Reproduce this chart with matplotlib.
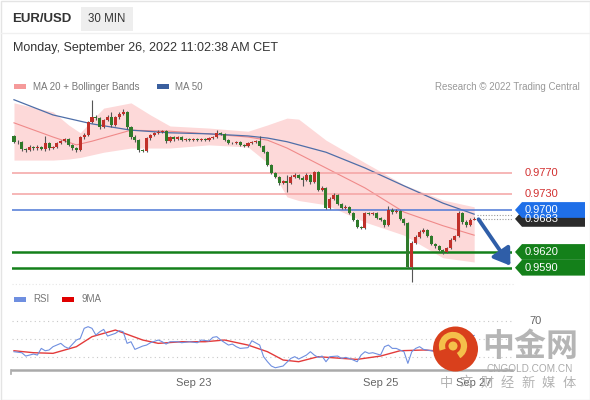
import matplotlib
matplotlib.use('Agg')
import matplotlib.pyplot as plt
import matplotlib.transforms as mtransforms
from matplotlib.patches import Polygon, Rectangle, Circle, Arc, FancyArrowPatch

plt.rcParams['font.family'] = ['Liberation Sans', 'DejaVu Sans']

# candle data (30 min), open of first candle, then closes / highs / lows
first_open = 0.9840
closes = [0.9830, 0.9829, 0.9816, 0.9814, 0.9820, 0.9818, 0.9820, 0.9816, 0.9828, 0.9818,
          0.9820, 0.9828, 0.9831, 0.9835, 0.9824, 0.9818, 0.9814, 0.9839, 0.9843, 0.9868,
          0.9877, 0.9875, 0.9858, 0.9871, 0.9877, 0.9862, 0.9877, 0.9883, 0.9887, 0.9858,
          0.9839, 0.9833, 0.9814, 0.9813, 0.9837, 0.9843, 0.9847, 0.9849, 0.9850, 0.9831,
          0.9839, 0.9835, 0.9839, 0.9833, 0.9835, 0.9833, 0.9835, 0.9833, 0.9835, 0.9834,
          0.9837, 0.9839, 0.9847, 0.9845, 0.9833, 0.9828, 0.9827, 0.9829, 0.9824, 0.9822,
          0.9828, 0.9829, 0.9831, 0.9822, 0.9810, 0.9786, 0.9770, 0.9763, 0.9751, 0.9755,
          0.9751, 0.9763, 0.9767, 0.9761, 0.9757, 0.9767, 0.9753, 0.9772, 0.9738, 0.9742,
          0.9704, 0.9721, 0.9729, 0.9711, 0.9704, 0.9706, 0.9694, 0.9681, 0.9668, 0.9666,
          0.9694, 0.9692, 0.9694, 0.9685, 0.9681, 0.9671, 0.9700, 0.9696, 0.9698, 0.9683,
          0.9675, 0.9591, 0.9637, 0.9649, 0.9658, 0.9662, 0.9650, 0.9635, 0.9631, 0.9624,
          0.9620, 0.9628, 0.9643, 0.9650, 0.9694, 0.9677, 0.9671, 0.9681, 0.9683]
highs = [0.9843, 0.9833, 0.9831, 0.9818, 0.9823, 0.9822, 0.9823, 0.9822, 0.9840, 0.9830,
         0.9822, 0.9830, 0.9834, 0.9838, 0.9837, 0.9826, 0.9820, 0.9841, 0.9846, 0.9870,
         0.9910, 0.9880, 0.9877, 0.9874, 0.9880, 0.9887, 0.9879, 0.9886, 0.9892, 0.9889,
         0.9860, 0.9842, 0.9835, 0.9817, 0.9839, 0.9845, 0.9849, 0.9852, 0.9853, 0.9852,
         0.9841, 0.9841, 0.9841, 0.9841, 0.9837, 0.9837, 0.9837, 0.9837, 0.9837, 0.9837,
         0.9839, 0.9841, 0.9852, 0.9849, 0.9847, 0.9835, 0.9830, 0.9831, 0.9831, 0.9826,
         0.9830, 0.9831, 0.9834, 0.9841, 0.9824, 0.9812, 0.9788, 0.9772, 0.9765, 0.9758,
         0.9766, 0.9766, 0.9770, 0.9769, 0.9764, 0.9770, 0.9769, 0.9775, 0.9774, 0.9745,
         0.9744, 0.9724, 0.9732, 0.9731, 0.9713, 0.9709, 0.9708, 0.9696, 0.9683, 0.9670,
         0.9697, 0.9697, 0.9697, 0.9696, 0.9687, 0.9683, 0.9708, 0.9703, 0.9701, 0.9700,
         0.9685, 0.9677, 0.9640, 0.9652, 0.9661, 0.9665, 0.9664, 0.9652, 0.9637, 0.9633,
         0.9626, 0.9630, 0.9646, 0.9653, 0.9698, 0.9697, 0.9680, 0.9684, 0.9686]
lows = [0.9827, 0.9826, 0.9813, 0.9811, 0.9812, 0.9815, 0.9815, 0.9814, 0.9813, 0.9815,
        0.9816, 0.9818, 0.9826, 0.9829, 0.9822, 0.9815, 0.9811, 0.9812, 0.9836, 0.9841,
        0.9865, 0.9872, 0.9855, 0.9856, 0.9869, 0.9859, 0.9860, 0.9874, 0.9881, 0.9855,
        0.9836, 0.9830, 0.9811, 0.9810, 0.9811, 0.9834, 0.9840, 0.9845, 0.9847, 0.9828,
        0.9829, 0.9832, 0.9833, 0.9831, 0.9831, 0.9831, 0.9831, 0.9831, 0.9831, 0.9832,
        0.9832, 0.9835, 0.9837, 0.9843, 0.9831, 0.9826, 0.9825, 0.9825, 0.9822, 0.9820,
        0.9820, 0.9826, 0.9827, 0.9820, 0.9808, 0.9784, 0.9768, 0.9761, 0.9748, 0.9749,
        0.9734, 0.9749, 0.9761, 0.9759, 0.9745, 0.9755, 0.9750, 0.9751, 0.9736, 0.9736,
        0.9702, 0.9702, 0.9719, 0.9709, 0.9702, 0.9702, 0.9692, 0.9679, 0.9665, 0.9663,
        0.9664, 0.9690, 0.9690, 0.9683, 0.9679, 0.9668, 0.9669, 0.9693, 0.9694, 0.9681,
        0.9672, 0.9589, 0.9563, 0.9635, 0.9647, 0.9656, 0.9648, 0.9633, 0.9628, 0.9621,
        0.9617, 0.9618, 0.9626, 0.9641, 0.9648, 0.9674, 0.9668, 0.9669, 0.9680]

# indicators
band_idx = [0, 10, 14, 17, 20, 23, 30, 35, 40, 50, 60, 65, 70, 73, 80, 90, 100, 110, 118]
bb_upper = [0.9904, 0.9887, 0.9862, 0.9847, 0.9871, 0.9894, 0.9904, 0.9881, 0.9860, 0.9856,
            0.9850, 0.9862, 0.9875, 0.9873, 0.9833, 0.9790, 0.9748, 0.9719, 0.9706]
bb_lower = [0.9795, 0.9795, 0.9797, 0.9800, 0.9805, 0.9810, 0.9818, 0.9818, 0.9818, 0.9824,
            0.9820, 0.9790, 0.9725, 0.9718, 0.9710, 0.9677, 0.9652, 0.9609, 0.9601]
ma_idx = [0, 10, 16, 20, 30, 40, 50, 60, 65, 70, 80, 90, 100, 110, 118]
ma20 = [0.9866, 0.9839, 0.9824, 0.9831, 0.9852, 0.9850, 0.9845, 0.9839, 0.9833, 0.9818,
        0.9780, 0.9742, 0.9696, 0.9670, 0.9652]
ma50_idx = [0, 10, 20, 30, 40, 50, 60, 65, 70, 80, 90, 100, 110, 118]
ma50 = [0.9910, 0.9881, 0.9864, 0.9852, 0.9847, 0.9845, 0.9841, 0.9837, 0.9830, 0.9810,
        0.9780, 0.9746, 0.9713, 0.9692]

rsi_idx = [0, 2, 3, 4, 5, 6, 7, 8, 9, 10, 12, 13, 14, 16, 17, 18, 19, 20, 21, 22, 23, 24, 26,
           27, 28, 29, 30, 31, 33, 34, 35, 37, 38, 39, 40, 42, 43, 45, 47, 48, 50, 51, 52, 53,
           55, 56, 57, 58, 60, 61, 63, 64, 65, 66, 67, 69, 71, 72, 73, 75, 76, 77, 78, 79, 80,
           81, 83, 84, 85, 86, 88, 89, 90, 91, 92, 94, 95, 96, 97, 98, 100, 101, 102, 103, 104,
           105, 107, 108, 110, 112, 114, 116, 118]
rsi = [35.9, 34.8, 31.1, 32.2, 33.3, 32.2, 39.6, 37.0, 37.8, 41.5, 45.2, 41.5, 39.6, 48.9, 50.7,
       61.9, 63.7, 61.9, 54.4, 58.1, 60.7, 53.3, 56.3, 59.3, 58.1, 45.2, 47.0, 38.5, 42.2, 43.3,
       45.9, 48.9, 47.0, 44.4, 47.0, 47.0, 45.9, 47.0, 45.9, 48.9, 47.8, 51.9, 52.6, 48.9, 43.3,
       44.4, 41.5, 39.6, 40.4, 48.1, 43.3, 30.4, 24.8, 20.0, 18.1, 20.0, 28.5, 30.4, 27.8, 32.2,
       35.9, 32.2, 29.6, 31.1, 24.8, 30.4, 31.1, 28.5, 29.6, 28.5, 24.8, 32.2, 35.9, 34.1, 34.8,
       32.2, 41.5, 43.3, 39.6, 39.6, 35.9, 23.0, 35.9, 39.6, 41.5, 38.5, 37.0, 35.9, 33.0, 40.0,
       58.0, 52.0, 54.0]
rsi_ma_idx = [0, 5, 10, 16, 20, 26, 33, 37, 43, 49, 54, 60, 65, 69, 73, 78, 84, 88, 94, 99, 105,
              108, 113, 118]
rsi_ma = [37.0, 34.8, 34.1, 41.5, 52.6, 60.0, 48.9, 45.2, 47.0, 47.0, 48.9, 43.3, 35.9, 26.7,
          24.8, 30.4, 28.5, 27.4, 31.1, 37.0, 37.8, 37.0, 40.0, 45.0]

levels = [0.9770, 0.9730, 0.9700, 0.9620, 0.9590]
level_colors = ['#f4a3a3', '#f4a3a3', '#4d78d6', '#14801a', '#14801a']
last_price = 0.9683
date_ticks = [46, 94, 118]
date_labels = ['Sep 23', 'Sep 25', 'Sep 27']

up_col = '#c0302a'
dn_col = '#2f7a2a'

fig = plt.figure(figsize=(5.9, 4.0), dpi=100)
fig.patch.set_facecolor('white')

# price panel
ax = fig.add_axes([12 / 590, 115 / 400, 500 / 590, 190 / 400])
ax.set_xlim(-0.51, 127.7)
ax.set_ylim(0.95571, 0.99190)
ax.axis('off')

ax.fill_between(band_idx, bb_lower, bb_upper, color='#fdd9d9', lw=0, zorder=1)
ax.plot(ma_idx, ma20, color='#f08a8a', lw=0.8, zorder=2)
ax.plot(ma50_idx, ma50, color='#4e6ea8', lw=0.9, zorder=2)

for lv, c in zip(levels, level_colors):
    lw = 1.8 if c == '#14801a' else 1.1
    ax.axhline(lv, color=c, lw=lw, zorder=3)

opens = [first_open] + closes[:-1]
for i in range(len(closes)):
    o, c = opens[i], closes[i]
    col = up_col if c >= o else dn_col
    ax.vlines(i, lows[i], highs[i], color='#555555', lw=0.8, zorder=4)
    ax.bar(i, max(abs(c - o), 0.00008), bottom=min(o, c), width=0.78, color=col, lw=0, zorder=5)

# dotted link from last candle to price tag
n = len(closes)
ax.hlines([last_price, last_price + 0.0007], n - 0.3, 127.7, colors='#999999', lw=0.8,
          linestyles=(0, (1, 1.5)), zorder=3)

# rsi panel
ar = fig.add_axes([12 / 590, 30 / 400, 500 / 590, 65 / 400])
ar.set_xlim(-0.51, 127.7)
ar.set_ylim(15.6, 87.8)
for s in ['top', 'right', 'left']:
    ar.spines[s].set_visible(False)
ar.spines['bottom'].set_color('#aaaaaa')
ar.spines['bottom'].set_linewidth(1.8)
ar.set_yticks([])
ar.set_xticks(date_ticks)
ar.set_xticklabels(date_labels, color='#666666', fontsize=8)
ar.tick_params(axis='x', length=0, pad=6)
for g in [70, 50, 30]:
    ar.axhline(g, color='#c8c8c8', lw=0.8, linestyle=(0, (1, 3)))
ar.plot(rsi_ma_idx, rsi_ma, color='#e33b3b', lw=1.0)
ar.plot(rsi_idx, rsi, color='#6f8fe0', lw=0.8)
ar.text(1.035, 70, '70', transform=ar.get_yaxis_transform(), color='#666666', fontsize=8,
        va='center')

# overlay in pixel units for header, legends, tags, watermark
ov = fig.add_axes([0, 0, 1, 1])
ov.set_xlim(0, 590)
ov.set_ylim(400, 0)
ov.axis('off')
ov.add_patch(Rectangle((0.5, 0.5), 589, 399, fill=False, ec='#e4e4e4', lw=1))
ov.plot([1, 589], [33, 33], color='#f0f0f0', lw=1)
ov.plot([12, 515], [284, 284], color='#e6e6e6', lw=0.8, linestyle=(0, (1, 2)))
ov.plot([11, 11], [370, 374], color='#aaaaaa', lw=1.2)

ov.text(12, 19, 'EUR/USD', fontsize=9.5, fontweight='bold', color='#333333', va='center')
ov.add_patch(Rectangle((81, 7), 52, 24, color='#eeeeee', lw=0))
ov.text(107, 19, '30 MIN', fontsize=8.3, color='#333333', va='center', ha='center')
ov.text(13, 48, 'Monday, September 26, 2022 11:02:38 AM CET', fontsize=9, color='#333333',
        va='center')

ov.add_patch(Rectangle((14, 84), 12, 5, color='#f59a9a', lw=0))
ov.text(33, 86.5, 'MA 20 + Bollinger Bands', fontsize=7, color='#777777', va='center')
ov.add_patch(Rectangle((157, 84), 12, 5, color='#3a5f9e', lw=0))
ov.text(175, 86.5, 'MA 50', fontsize=7, color='#777777', va='center')
ov.text(580, 86.5, 'Research \u00a9 2022 Trading Central', fontsize=7, color='#999999',
        va='center', ha='right')
ov.add_patch(Rectangle((14, 297), 12, 5, color='#6f8fe0', lw=0))
ov.text(33, 299.5, 'RSI', fontsize=7, color='#777777', va='center')
ov.add_patch(Rectangle((62, 297), 12, 5, color='#e00000', lw=0))
ov.text(82, 299.5, '9MA', fontsize=7, color='#777777', va='center')

# price tags
bt = mtransforms.blended_transform_factory(ov.transData, ax.transData)
half = 0.00150


def tag(price, color, txt):
    pts = [(515, price), (522, price + half), (585, price + half), (585, price - half),
           (522, price - half)]
    ov.add_patch(Polygon(pts, closed=True, color=color, lw=0, transform=bt))
    ov.text(525, price, txt, color='white', fontsize=8, va='center', transform=bt)


ov.text(525, levels[0], '%.4f' % levels[0], color='#d23030', fontsize=8, va='center', transform=bt)
ov.text(525, levels[1], '%.4f' % levels[1], color='#d23030', fontsize=8, va='center', transform=bt)
tag(last_price, '#2b2b2b', '%.4f' % last_price)
tag(levels[2], '#1f6fe8', '%.4f' % levels[2])
tag(levels[3], '#14801a', '%.4f' % levels[3])
tag(levels[4], '#14801a', '%.4f' % levels[4])

# forecast arrow
ov.add_patch(FancyArrowPatch((477, 217), (512, 268), arrowstyle='-|>,head_length=6,head_width=4',
                             color='#2f5ea8', lw=2.8, mutation_scale=1.6))

# watermark
cjk = ['Noto Sans CJK SC', 'DejaVu Sans']
ov.add_patch(Circle((455.5, 349), 22.5, color='#d9401c', lw=0, zorder=10))
ov.add_patch(Arc((453, 346), 22, 22, theta1=-200, theta2=60, color='#f4c04a', lw=4.5, zorder=11))
ov.add_patch(Circle((453, 346), 4.5, color='#f4c04a', lw=0, zorder=11))
ov.text(530, 347, '中金网', fontsize=23, fontweight='bold', color='#adadad', ha='center',
        va='center', family=cjk, zorder=10, alpha=0.9)
ov.text(530, 369, 'CNGOLD.COM.CN', fontsize=7.2, color='#aaaaaa', ha='center', va='center',
        zorder=10)
for k, ch in enumerate('中文财经新媒体'):
    ov.text(446 + 20.5 * k, 383, ch, fontsize=9.5, color='#aaaaaa', ha='center', va='center',
            family=cjk, zorder=10, alpha=0.9)

fig.savefig('out.png', dpi=100)
